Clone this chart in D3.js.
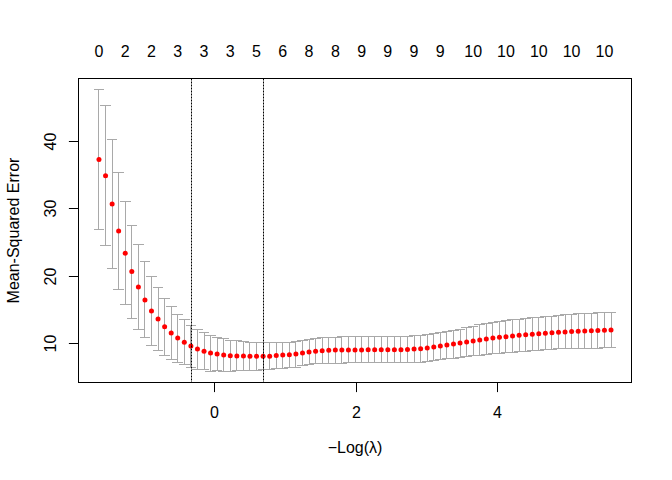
<!DOCTYPE html>
<html>
<head>
<meta charset="utf-8">
<script src="https://cdn.jsdelivr.net/npm/d3@7"></script>
<style>
	body { margin: 0; background: #fff; }
	text { font-family: "Liberation Sans", Arial, sans-serif; font-size: 16px; fill: #000; }
</style>
</head>
<body>
<svg id="chart" width="672" height="480"></svg>
<script>
// -log(lambda) path, cross-validated mean error, its sd, and nonzero coef counts
var negLogLambda = [
	-1.627, -1.534, -1.441, -1.349, -1.256, -1.163, -1.070, -0.977, -0.885, -0.792,
	-0.699, -0.606, -0.514, -0.421, -0.328, -0.235, -0.142, -0.050, 0.043, 0.136,
	0.229, 0.322, 0.415, 0.507, 0.600, 0.693, 0.786, 0.879, 0.971, 1.064,
	1.157, 1.250, 1.342, 1.435, 1.528, 1.621, 1.714, 1.806, 1.899, 1.992,
	2.085, 2.178, 2.270, 2.363, 2.456, 2.549, 2.642, 2.734, 2.827, 2.920,
	3.013, 3.106, 3.198, 3.291, 3.384, 3.477, 3.570, 3.662, 3.755, 3.848,
	3.941, 4.034, 4.126, 4.219, 4.312, 4.405, 4.498, 4.590, 4.683, 4.776,
	4.869, 4.961, 5.054, 5.147, 5.240, 5.333, 5.425, 5.518, 5.611
];
var cvm = [
	37.2, 34.8, 30.6, 26.6, 23.3, 20.6, 18.3, 16.4, 14.75, 13.55,
	12.4, 11.5, 10.74, 10.12, 9.55, 9.11, 8.78, 8.51, 8.37, 8.22,
	8.12, 8.09, 8.07, 8.06, 8.05, 8.04, 8.06, 8.15, 8.22, 8.25,
	8.37, 8.51, 8.66, 8.78, 8.84, 8.93, 8.96, 8.97, 8.98, 8.98,
	8.98, 8.99, 8.99, 8.99, 9.0, 9.0, 9.01, 9.03, 9.1, 9.16,
	9.26, 9.4, 9.55, 9.7, 9.85, 10.0, 10.15, 10.3, 10.45, 10.6,
	10.74, 10.85, 10.92, 11.04, 11.15, 11.22, 11.32, 11.38, 11.47, 11.52,
	11.6, 11.65, 11.7, 11.76, 11.8, 11.83, 11.86, 11.9, 11.93
];
var cvsd = [
	10.35, 10.4, 9.6, 8.65, 7.65, 6.9, 6.25, 5.65, 5.15, 4.68,
	4.23, 3.94, 3.56, 3.35, 3.12, 2.97, 2.75, 2.68, 2.45, 2.38,
	2.3, 2.23, 2.2, 2.08, 2.05, 2.0, 1.95, 1.93, 1.93, 1.9,
	1.93, 1.88, 1.88, 1.88, 1.92, 1.9, 1.93, 1.93, 1.93, 1.93,
	1.93, 1.93, 1.93, 1.93, 1.93, 1.93, 1.93, 1.94, 1.95, 2.0,
	2.0, 2.02, 2.03, 2.05, 2.07, 2.08, 2.1, 2.2, 2.3, 2.3,
	2.32, 2.36, 2.38, 2.42, 2.4, 2.44, 2.4, 2.45, 2.45, 2.47,
	2.48, 2.52, 2.53, 2.57, 2.58, 2.6, 2.6, 2.6, 2.6
];
var nzero = [
	0, 1, 2, 2, 2, 2, 2, 2, 2, 2,
	3, 3, 3, 3, 3, 3, 3, 3, 3, 3,
	3, 3, 4, 4, 5, 5, 5, 6, 6, 7,
	7, 8, 8, 8, 8, 8, 8, 9, 9, 9,
	9, 9, 9, 9, 9, 9, 9, 9, 9, 9,
	9, 9, 9, 9, 9, 10, 10, 10, 10, 10,
	10, 10, 10, 10, 10, 10, 10, 10, 10, 10,
	10, 10, 10, 10, 10, 10, 10, 10, 10
];
var lambdaLines = [-0.328, 0.693];   // lambda.1se, lambda.min
var xTicks = [0, 2, 4];
var yTicks = [10, 20, 30, 40];

var plotLeft = 78.5, plotRight = 631.5, plotTop = 78.5, plotBottom = 382.5;

var svg = d3.select('#chart');

// R pads the data range by 4% on each side
function paddedExtent (lo, hi) {
	var pad = (hi - lo) * 0.04;
	return [lo - pad, hi + pad];
}

var upper = cvm.map(function (m, i) { return m + cvsd[i]; });
var lower = cvm.map(function (m, i) { return m - cvsd[i]; });

var x = d3.scaleLinear()
	.domain(paddedExtent(d3.min(negLogLambda), d3.max(negLogLambda)))
	.range([plotLeft, plotRight]);

var y = d3.scaleLinear()
	.domain(paddedExtent(d3.min(lower), d3.max(upper)))
	.range([plotBottom, plotTop]);

svg.append('rect')
	.attr('width', 672)
	.attr('height', 480)
	.attr('fill', '#fff');

// error bars
var capW = 0.075;
var bars = svg.append('g')
	.attr('stroke', '#a9a9a9')
	.attr('stroke-width', 1)
	.attr('shape-rendering', 'crispEdges');

negLogLambda.forEach(function (v, i) {
	bars.append('line')
		.attr('x1', x(v)).attr('x2', x(v))
		.attr('y1', y(upper[i])).attr('y2', y(lower[i]));
	bars.append('line')
		.attr('x1', x(v - capW)).attr('x2', x(v + capW))
		.attr('y1', y(upper[i])).attr('y2', y(upper[i]));
	bars.append('line')
		.attr('x1', x(v - capW)).attr('x2', x(v + capW))
		.attr('y1', y(lower[i])).attr('y2', y(lower[i]));
});

svg.append('g')
	.selectAll('circle')
	.data(negLogLambda)
	.enter()
	.append('circle')
	.attr('cx', function (d) { return x(d); })
	.attr('cy', function (d, i) { return y(cvm[i]); })
	.attr('r', 2.5)
	.attr('fill', '#ff0000');

svg.append('g')
	.selectAll('line')
	.data(lambdaLines)
	.enter()
	.append('line')
	.attr('x1', function (d) { return Math.round(x(d)) + 0.5; })
	.attr('x2', function (d) { return Math.round(x(d)) + 0.5; })
	.attr('y1', plotTop)
	.attr('y2', plotBottom)
	.attr('stroke', '#000')
	.attr('stroke-width', 1)
	.attr('stroke-dasharray', '2,1');

// box
svg.append('rect')
	.attr('x', plotLeft)
	.attr('y', plotTop)
	.attr('width', plotRight - plotLeft)
	.attr('height', plotBottom - plotTop)
	.attr('fill', 'none')
	.attr('stroke', '#000')
	.attr('stroke-width', 1);

// bottom axis
var tickLen = 9.6;
xTicks.forEach(function (t) {
	var px = Math.round(x(t)) + 0.5;
	svg.append('line')
		.attr('x1', px).attr('x2', px)
		.attr('y1', plotBottom).attr('y2', plotBottom + tickLen)
		.attr('stroke', '#000');
	svg.append('text')
		.attr('x', px)
		.attr('y', 417.5)
		.attr('text-anchor', 'middle')
		.text(t);
});

// left axis
yTicks.forEach(function (t) {
	var py = Math.round(y(t)) + 0.5;
	svg.append('line')
		.attr('x1', plotLeft - tickLen).attr('x2', plotLeft)
		.attr('y1', py).attr('y2', py)
		.attr('stroke', '#000');
	svg.append('text')
		.attr('transform', 'translate(55.5,' + py + ') rotate(-90)')
		.attr('text-anchor', 'middle')
		.text(t);
});

svg.append('text')
	.attr('x', (plotLeft + plotRight) / 2)
	.attr('y', 453)
	.attr('text-anchor', 'middle')
	.text('\u2212Log(\u03bb)');

svg.append('text')
	.attr('transform', 'translate(18.5,' + (plotTop + plotBottom) / 2 + ') rotate(-90)')
	.attr('text-anchor', 'middle')
	.text('Mean-Squared Error');

// top axis: nonzero counts, skipping labels that would overlap (gap of one "m")
function textWidth (s) {
	var t = svg.append('text').text(s);
	var w = t.node().getComputedTextLength();
	t.remove();
	return w;
}

var gap = textWidth('m');
var lastRight = -Infinity;
negLogLambda.forEach(function (v, i) {
	var label = String(nzero[i]);
	var w = textWidth(label);
	var cx = x(v);
	if (cx - w / 2 >= lastRight + gap) {
		svg.append('text')
			.attr('x', cx)
			.attr('y', 56.7)
			.attr('text-anchor', 'middle')
			.text(label);
		lastRight = cx + w / 2;
	}
});
</script>
</body>
</html>
